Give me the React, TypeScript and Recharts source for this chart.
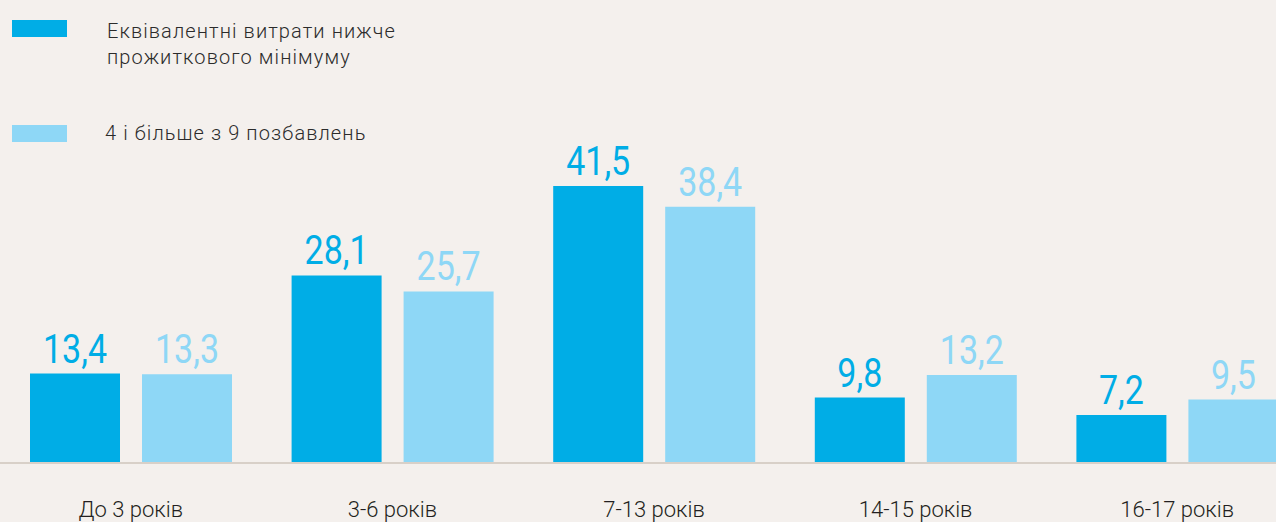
import React from 'react';
import { BarChart, Bar, XAxis, YAxis, LabelList } from 'recharts';

const categories = ['До 3 років', '3-6 років', '7-13 років', '14-15 років', '16-17 років'];
const belowMinimum = [13.4, 28.1, 41.5, 9.8, 7.2];
const deprivations = [13.3, 25.7, 38.4, 13.2, 9.5];
const seriesOneLines = ['Еквівалентні витрати нижче', 'прожиткового мінімуму'];
const seriesTwoLines = ['4 і більше з 9 позбавлень'];

const DARK = '#00ade6';
const LIGHT = '#8ed7f6';
const BG = '#f4f0ed';

const data = categories.map((c, i) => ({ name: c, a: belowMinimum[i], b: deprivations[i] }));

const fmt = (v: any) => Number(v).toFixed(1).replace('.', ',');

const makeLabel = (color: string) => (props: any) => {
  const { x, y, width, value } = props;
  const cx = Number(x) + Number(width) / 2;
  const by = Number(y) - 11;
  return (
    <text
      transform={`translate(${cx},${by}) scale(0.85,1)`}
      x={0}
      y={0}
      textAnchor="middle"
      fontFamily="Roboto"
      fontSize={40}
      fill={color}
    >
      {fmt(value)}
    </text>
  );
};

const Tick = (props: any) => {
  const { x, y, payload } = props;
  return (
    <text x={x} y={y} dy={54} textAnchor="middle" fontFamily="Roboto" fontWeight={300} fontSize={22} fill="#231f20">
      {payload.value}
    </text>
  );
};

export default function App() {
  return (
    <div style={{ position: 'relative', width: 1276, height: 522, background: BG, overflow: 'hidden' }}>
      <style>{`body{margin:0;background:${BG}}`}</style>
      <BarChart
        width={1276}
        height={522}
        data={data}
        margin={{ top: 186, right: -32, bottom: 0, left: 0 }}
        barSize={90}
        barGap={22}
      >
        <XAxis
          dataKey="name"
          height={59}
          tickSize={0}
          tickMargin={0}
          tickLine={false}
          axisLine={{ stroke: '#d8d0c8', strokeWidth: 2 }}
          tick={<Tick />}
          interval={0}
        />
        <YAxis hide domain={[0, 41.5]} />
        <Bar dataKey="a" fill={DARK} isAnimationActive={false}>
          <LabelList dataKey="a" content={makeLabel(DARK)} />
        </Bar>
        <Bar dataKey="b" fill={LIGHT} isAnimationActive={false}>
          <LabelList dataKey="b" content={makeLabel(LIGHT)} />
        </Bar>
      </BarChart>
      <svg width={1276} height={522} style={{ position: 'absolute', left: 0, top: 0, pointerEvents: 'none' }}>
        <rect x={12} y={20} width={55} height={17} fill={DARK} />
        {seriesOneLines.map((t, i) => (
          <text key={t} x={107} y={38 + i * 26} fontFamily="Roboto" fontWeight={300} fontSize={20} letterSpacing={1.1} fill="#2b2b2b">
            {t}
          </text>
        ))}
        <rect x={12} y={125} width={55} height={17} fill={LIGHT} />
        {seriesTwoLines.map((t) => (
          <text key={t} x={105} y={140} fontFamily="Roboto" fontWeight={300} fontSize={20} letterSpacing={1.1} fill="#2b2b2b">
            {t}
          </text>
        ))}
      </svg>
    </div>
  );
}
